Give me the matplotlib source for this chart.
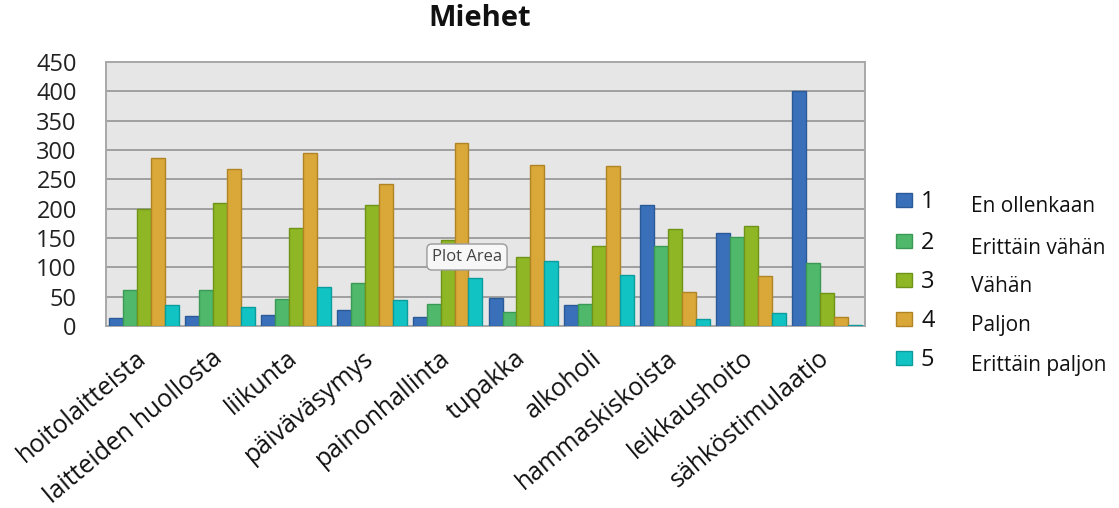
import numpy as np
import matplotlib
matplotlib.use('Agg')
import matplotlib.pyplot as plt
import matplotlib.transforms as mtransforms
from matplotlib.patches import Rectangle

plt.rcParams['font.family'] = ['Open Sans', 'DejaVu Sans']

categories = ['hoitolaitteista', 'laitteiden huollosta', 'liikunta', 'päiväväsymys',
              'painonhallinta', 'tupakka', 'alkoholi', 'hammaskiskoista',
              'leikkaushoito', 'sähköstimulaatio']
s1 = [13, 17, 19, 27, 15, 48, 35, 207, 159, 401]
s2 = [62, 62, 46, 74, 37, 24, 37, 136, 151, 107]
s3 = [200, 210, 167, 207, 147, 117, 136, 165, 171, 56]
s4 = [287, 268, 295, 242, 312, 274, 272, 58, 86, 16]
s5 = [35, 33, 66, 44, 82, 110, 87, 12, 23, 2]
series = [s1, s2, s3, s4, s5]
numbers = ['1', '2', '3', '4', '5']
names = ['En ollenkaan', 'Erittäin vähän', 'Vähän', 'Paljon', 'Erittäin paljon']
yticks = list(range(0, 451, 50))

colors = ['#3a70b9', '#4fb86b', '#8fb725', '#d9a838', '#12c3c3']
edges = ['#2a5a98', '#3a9a55', '#6f9318', '#b08424', '#0d9c9c']

W, H = 1119, 508
fig = plt.figure(figsize=(W / 100, H / 100), dpi=100)
fig.patch.set_facecolor('white')
ax = fig.add_axes([106 / W, 1 - 326 / H, 759 / W, 264 / H])
ax.set_facecolor('#e6e6e6')

x = np.arange(len(categories))
bw = 0.184
for i, vals in enumerate(series):
    ax.bar(x + (i - 2) * bw, vals, width=bw, color=colors[i],
           edgecolor=edges[i], linewidth=1.0, zorder=3)

ax.set_xlim(-0.5, len(categories) - 0.5)
ax.set_ylim(0, 450)
ax.set_yticks(yticks)
ax.set_yticklabels([str(t) for t in yticks], fontsize=17, color='#222222')
ax.yaxis.grid(True, color='#a0a0a0', linewidth=1.4, zorder=0)
ax.tick_params(axis='y', length=0, pad=21)
ax.tick_params(axis='x', length=0, pad=14)
ax.set_xticks(x)
ax.set_xticklabels(categories, rotation=40, ha='right', rotation_mode='anchor',
                   fontsize=18, color='#111111')
shift = mtransforms.ScaledTranslation(-0.09, 0, fig.dpi_scale_trans)
for lab in ax.get_xticklabels():
    lab.set_transform(lab.get_transform() + shift)
for sp in ax.spines.values():
    sp.set_color('#a8a8a8')
    sp.set_linewidth(1.4)

fig.text(480 / W, 1 - 19 / H, 'Miehet', ha='center', va='center',
         fontsize=21, fontweight='bold', color='#111111')

# legend
row_y = [200, 241, 280, 319, 358]
for i in range(5):
    yc = row_y[i]
    fig.patches.append(Rectangle((896 / W, 1 - (yc + 7) / H), 16 / W, 14 / H,
                                 transform=fig.transFigure, facecolor=colors[i],
                                 edgecolor=edges[i], linewidth=1.0))
    fig.text(921 / W, 1 - (yc + 2) / H, numbers[i], ha='left', va='center',
             fontsize=17, color='#111111')
    fig.text(971 / W, 1 - (yc + 7) / H, names[i], ha='left', va='center',
             fontsize=15, color='#111111')

# tooltip
fig.text(467 / W, 1 - 257 / H, 'Plot Area', ha='center', va='center',
         fontsize=12, color='#444444', zorder=10,
         bbox=dict(boxstyle='round,pad=0.3,rounding_size=0.3',
                   facecolor='#f7f7f7', edgecolor='#9a9a9a', linewidth=1.0))

fig.savefig('out.png', dpi=100)
